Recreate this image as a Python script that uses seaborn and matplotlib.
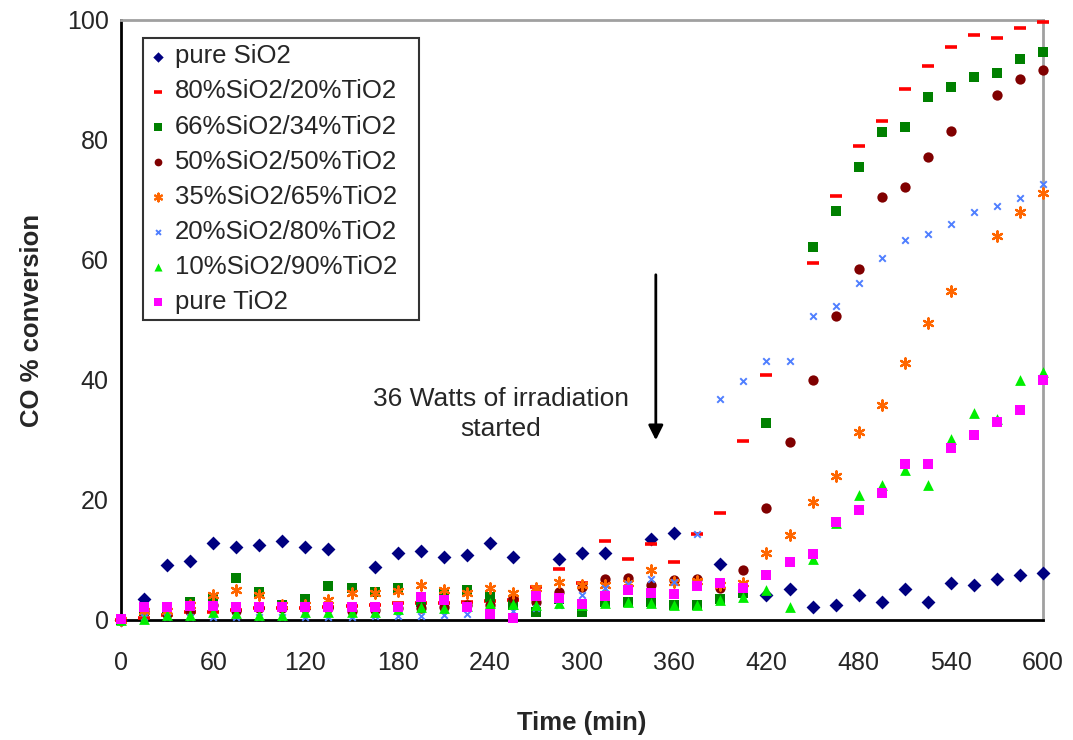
import numpy as np
import pandas as pd
import matplotlib
matplotlib.use("Agg")
import matplotlib.pyplot as plt
import seaborn as sns

nan = np.nan

# Sampling times (min)
time_min = list(range(0, 601, 15))

# CO conversion (%) for each catalyst composition
pure_sio2 = [0, 3.5, 9.2, 9.8, 12.8, 12.2, 12.5, 13.2, 12.2, 11.8, nan,
             8.8, 11.2, 11.5, 10.5, 10.8, 12.8, 10.5, nan, 10.2, 11.2,
             11.2, nan, 13.5, 14.5, nan, 9.3, nan, 4.2, 5.2, 2.2,
             2.5, 4.2, 3.0, 5.2, 3.0, 6.2, 5.8, 6.8, 7.5, 7.8]
sio2_80 = [0, 0.3, 0.8, 1.3, 1.3, 1.7, 2.0, 2.0, 2.0, 2.2, 2.3,
           2.5, 2.8, 2.8, 2.8, 3.0, 3.2, 3.4, 5.5, 8.5, 6.2,
           13.2, 10.2, 12.7, 9.7, 14.3, 17.8, 29.8, 40.8, nan, 59.5,
           70.7, 79.0, 83.2, 88.5, 92.3, 95.5, 97.5, 97.0, 98.7, 99.7]
sio2_66 = [0, 1.5, 2.0, 3.0, 3.7, 7.0, 4.7, 2.5, 3.5, 5.7, 5.3,
           4.7, 5.3, 3.0, 4.5, 5.0, 3.8, 2.5, 1.3, 3.5, 1.3,
           3.0, 3.0, 3.0, 2.5, 2.5, 3.5, 4.5, 32.8, nan, 62.2,
           68.2, 75.5, 81.3, 82.2, 87.2, 88.8, 90.5, 91.2, 93.5, 94.7]
sio2_50 = [0, 1.5, 1.0, 1.5, 2.5, 1.5, 2.0, 2.0, 2.0, 2.0, 1.5,
           1.7, 2.0, 2.0, 2.2, 2.5, 2.5, 3.7, 3.0, 4.7, 5.5,
           6.8, 7.0, 5.8, 6.7, 6.8, 5.3, 8.3, 18.7, 29.7, 40.0,
           50.7, 58.5, 70.5, 72.2, 77.2, 81.5, nan, 87.5, 90.2, 91.7]
sio2_35 = [0, 1.5, 1.5, 2.5, 4.2, 5.0, 4.2, 2.5, 2.5, 3.3, 4.5,
           4.5, 4.8, 5.8, 5.0, 4.5, 5.3, 4.5, 5.3, 6.3, 5.8,
           5.8, 6.2, 8.3, 6.3, 6.5, 5.8, 6.2, 11.2, 14.2, 19.7,
           24.0, 31.3, 35.8, 42.8, 49.5, 54.8, nan, 64.0, 68.0, 71.2]
sio2_20 = [0, 0.5, 0.5, 0.5, 0.5, 0.5, 0.5, 0.5, 0.5, 0.5, 0.5,
           0.7, 0.7, 0.7, 0.8, 1.0, 1.0, 1.5, 2.0, 2.5, 4.2,
           5.3, 6.0, 6.8, 6.3, 14.3, 36.8, 39.8, 43.2, 43.2, 50.7,
           52.3, 56.2, 60.3, 63.3, 64.3, 66.0, 68.0, 69.0, 70.3, 72.7]
sio2_10 = [0, 0.2, 0.8, 0.8, 1.3, 1.2, 0.8, 0.8, 1.3, 1.3, 1.3,
           1.3, 1.8, 2.2, 2.0, 2.3, 2.8, 2.7, 2.5, 2.8, 2.5,
           2.8, 3.0, 2.8, 2.5, 2.5, 3.3, 3.8, 5.0, 2.2, 10.2,
           16.2, 20.8, 22.5, 25.0, 22.5, 30.2, 34.5, 33.5, 40.0, 41.3]
pure_tio2 = [0.2, 2.2, 2.2, 2.3, 2.3, 2.2, 2.2, 2.2, 2.2, 2.2, 2.2,
             2.2, 2.2, 3.8, 3.3, 2.2, 1.0, 0.3, 4.0, 3.7, 2.7,
             4.0, 5.0, 4.5, 4.3, 5.7, 6.2, 5.3, 7.5, 9.7, 11.0,
             16.3, 18.3, 21.2, 26.0, 26.0, 28.7, 30.8, 33.0, 35.0, 40.0]

series_names = ["pure SiO2", "80%SiO2/20%TiO2", "66%SiO2/34%TiO2",
                "50%SiO2/50%TiO2", "35%SiO2/65%TiO2", "20%SiO2/80%TiO2",
                "10%SiO2/90%TiO2", "pure TiO2"]
series_values = [pure_sio2, sio2_80, sio2_66, sio2_50,
                 sio2_35, sio2_20, sio2_10, pure_tio2]

# Marker styling per series
colors = ["#000080", "#FF0000", "#008000", "#800000",
          "#FF6600", "#4F7FFF", "#00EE00", "#FF00FF"]
markers = ["D", "_", "s", "o", (6, 2, 0), "x", "^", "s"]
sizes = [50, 70, 55, 55, 55, 22, 60, 55]
linewidths = [0, 2.6, 0, 0, 1.6, 1.4, 0, 0]

df = pd.DataFrame({"Time (min)": time_min})
for name, vals in zip(series_names, series_values):
    df[name] = vals
long_df = df.melt(id_vars="Time (min)", var_name="series",
                  value_name="CO % conversion").dropna()

sns.set_style("white")
plt.rcParams["font.family"] = ["Liberation Sans", "DejaVu Sans"]

fig = plt.figure(figsize=(10.73, 7.40), dpi=100)
ax = fig.add_axes([0.1128, 0.1622, 0.8593, 0.8108])

for name, c, m, s, lw in zip(series_names, colors, markers, sizes, linewidths):
    sub = long_df[long_df["series"] == name]
    kw = dict(color=c, marker=m, s=s, label=name, clip_on=False, zorder=3)
    if lw == 0:
        kw["linewidth"] = 0
    else:
        kw["linewidths"] = lw
    sns.scatterplot(data=sub, x="Time (min)", y="CO % conversion",
                    ax=ax, **kw)

ax.set_xlim(0, 600)
ax.set_ylim(0, 100)
ax.set_xticks(range(0, 601, 60))
ax.set_yticks(range(0, 101, 20))
ax.tick_params(axis="both", labelsize=18, direction="out",
               width=1.8, color="black")
ax.tick_params(axis="x", length=7, pad=15)
ax.tick_params(axis="y", length=6, pad=3)

for side in ("left", "bottom"):
    ax.spines[side].set_color("black")
    ax.spines[side].set_linewidth(2)
for side in ("top", "right"):
    ax.spines[side].set_color("#A0A0A0")
    ax.spines[side].set_linewidth(2)

ax.set_xlabel("Time (min)", fontsize=18.5, fontweight="bold", labelpad=26)
ax.set_ylabel("CO % conversion", fontsize=18.5, fontweight="bold", labelpad=16)

# Irradiation start annotation
ax.annotate("", xy=(348, 29.5), xytext=(348, 58),
            arrowprops=dict(arrowstyle="-|>", color="black", lw=2,
                            mutation_scale=22))
ax.text(247, 34.3, "36 Watts of irradiation\nstarted", ha="center",
        va="center", fontsize=19, linespacing=1.3)

leg = ax.legend(loc="upper left", bbox_to_anchor=(0.0239, 0.0, 0.2993, 0.97),
                mode="expand", borderaxespad=0, frameon=True, fancybox=False,
                fontsize=18.5, handlelength=0.7, handletextpad=0.3,
                labelspacing=0.43, markerscale=0.75, borderpad=0.25)
leg.get_frame().set_edgecolor("black")
leg.get_frame().set_linewidth(1.5)

fig.savefig("out.png", dpi=100)
